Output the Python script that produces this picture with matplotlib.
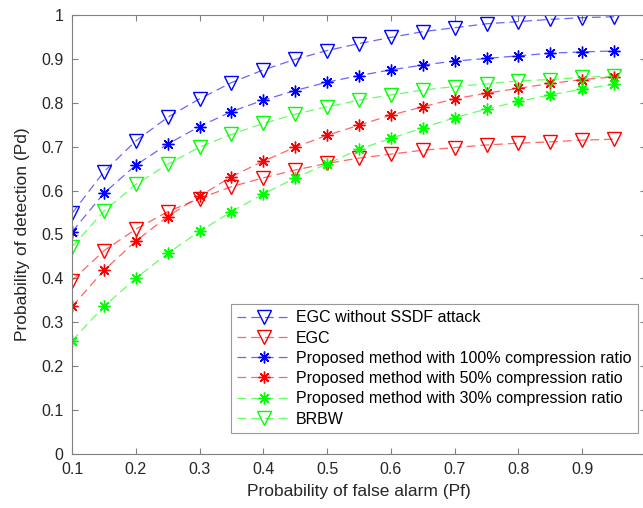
import matplotlib
matplotlib.use("Agg")
import matplotlib.pyplot as plt
import numpy as np

plt.rcParams['font.family'] = ['Liberation Sans', 'DejaVu Sans']

pf = [0.1, 0.15, 0.2, 0.25, 0.3, 0.35, 0.4, 0.45, 0.5, 0.55, 0.6, 0.65, 0.7, 0.75, 0.8, 0.85, 0.9, 0.95]

egc_no_attack = [0.548, 0.643, 0.713, 0.767, 0.809, 0.846, 0.875, 0.899, 0.919, 0.935, 0.949, 0.962, 0.971, 0.980, 0.985, 0.990, 0.994, 0.996]
egc = [0.395, 0.463, 0.512, 0.552, 0.582, 0.609, 0.629, 0.647, 0.662, 0.674, 0.683, 0.692, 0.698, 0.704, 0.708, 0.711, 0.715, 0.717]
prop_100 = [0.506, 0.594, 0.658, 0.706, 0.746, 0.780, 0.806, 0.828, 0.847, 0.862, 0.875, 0.886, 0.895, 0.901, 0.907, 0.913, 0.916, 0.918]
prop_50 = [0.336, 0.418, 0.485, 0.541, 0.587, 0.632, 0.667, 0.699, 0.726, 0.749, 0.772, 0.791, 0.809, 0.822, 0.833, 0.844, 0.853, 0.859]
prop_30 = [0.258, 0.336, 0.400, 0.457, 0.507, 0.552, 0.592, 0.629, 0.661, 0.694, 0.719, 0.743, 0.766, 0.786, 0.803, 0.818, 0.831, 0.842]
brbw = [0.472, 0.553, 0.614, 0.660, 0.699, 0.728, 0.753, 0.774, 0.791, 0.806, 0.818, 0.829, 0.837, 0.843, 0.850, 0.853, 0.858, 0.861]

labels = ["EGC without SSDF attack", "EGC",
          "Proposed method with 100% compression ratio",
          "Proposed method with 50% compression ratio",
          "Proposed method with 30% compression ratio",
          "BRBW"]
xticks = [0.1, 0.2, 0.3, 0.4, 0.5, 0.6, 0.7, 0.8, 0.9, 1.0]
xticklabels = ["0.1", "0.2", "0.3", "0.4", "0.5", "0.6", "0.7", "0.8", "0.9", ""]
yticks = [0, 0.1, 0.2, 0.3, 0.4, 0.5, 0.6, 0.7, 0.8, 0.9, 1.0]
yticklabels = ["0", "0.1", "0.2", "0.3", "0.4", "0.5", "0.6", "0.7", "0.8", "0.9", "1"]

fig = plt.figure(figsize=(6.43, 5.08), dpi=100)
ax = fig.add_axes([72/643, (508-454)/508, (646-72)/643, (454-15)/508])

star = (8, 2, 0)
series = [
    (egc_no_attack, (0, 0, 1), 'v', 10),
    (egc, (1, 0, 0), 'v', 10),
    (prop_100, (0, 0, 1), star, 8.5),
    (prop_50, (1, 0, 0), star, 8.5),
    (prop_30, (0, 1, 0), star, 8.5),
    (brbw, (0, 1, 0), 'v', 10),
]
for (vals, col, mk, ms), lab in zip(series, labels):
    ax.plot(pf, vals, linestyle=(0, (7, 4)), color=col + (0.6,), linewidth=0.9,
            marker=mk, markersize=ms, markerfacecolor='none',
            markeredgecolor=col, markeredgewidth=1.0, label=lab)

ax.set_xlim(0.1, 1.0)
ax.set_ylim(0, 1)
ax.set_xticks(xticks)
ax.set_xticklabels(xticklabels)
ax.set_yticks(yticks)
ax.set_yticklabels(yticklabels)
for s in ax.spines.values():
    s.set_color('#808080')
    s.set_linewidth(0.8)
ax.tick_params(direction='in', top=True, right=True, length=4, width=0.8,
               colors='#808080', labelcolor='#262626', labelsize=11.5, pad=6)
ax.set_xlabel("Probability of false alarm (Pf)", fontsize=12.5, color='#262626', labelpad=5)
ax.set_ylabel("Probability of detection (Pd)", fontsize=12.5, color='#262626', labelpad=8)

leg = ax.legend(loc='lower right', bbox_to_anchor=((638-72)/574, (454-433)/439),
                borderaxespad=0, fontsize=11.5, frameon=True, fancybox=False,
                edgecolor='#808080', handlelength=3.4, handletextpad=0.3,
                labelspacing=0.33, borderpad=0.4)
leg.get_frame().set_linewidth(0.8)

fig.savefig("out.png", dpi=100)
